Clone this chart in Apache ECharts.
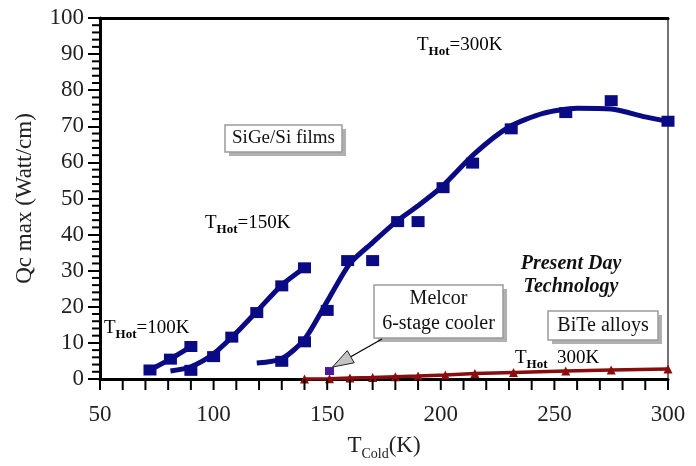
<!DOCTYPE html>
<html>
<head>
<meta charset="utf-8">
<script src="https://cdn.jsdelivr.net/npm/echarts@6/dist/echarts.min.js"></script>
<style>html,body{margin:0;padding:0;background:#fff;}#c{width:696px;height:466px;}</style>
</head>
<body>
<div id="c"></div>
<script>
// ---- data ----
const xTicks = [50, 100, 150, 200, 250, 300];
const yTicks = [0, 10, 20, 30, 40, 50, 60, 70, 80, 90, 100];

// SiGe/Si films, T_Hot = 100K
const hot100X = [72, 81, 90];
const hot100Y = [2.5, 5.5, 9.0];

// SiGe/Si films, T_Hot = 150K (markers and fitted curve)
const hot150X = [90, 100, 108, 119, 130, 140];
const hot150Y = [2.4, 6.2, 11.6, 18.4, 25.8, 30.8];
const hot150FitX = [81, 90, 100, 110, 120, 130, 140];
const hot150FitY = [2.2, 3.4, 7.0, 12.8, 19.4, 26.0, 30.8];

// SiGe/Si films, T_Hot = 300K (markers and fitted curve)
const hot300X = [130, 140, 150, 159, 170, 181, 190, 201, 214, 231, 255, 275, 300];
const hot300Y = [4.9, 10.3, 19.0, 32.8, 32.8, 43.6, 43.6, 53.0, 59.8, 69.3, 73.8, 77.1, 71.4];
const hot300FitX = [119, 130, 140, 150, 160, 170, 180, 190, 200, 215, 230, 245, 260, 275, 290, 300];
const hot300FitY = [4.4, 5.6, 11.0, 21.5, 32.0, 37.8, 43.4, 48.0, 53.0, 62.5, 69.8, 73.6, 75.0, 74.8, 72.6, 71.4];

// BiTe alloys, T_Hot = 300K
const biteX = [140, 151, 160, 170, 180, 190, 202, 215, 232, 255, 275, 300];
const biteY = [0.0, 0.1, 0.3, 0.4, 0.6, 0.8, 1.1, 1.5, 1.8, 2.2, 2.5, 2.8];

// Melcor 6-stage cooler
const melcorX = [151];
const melcorY = [2.2];

const zip = (xs, ys) => xs.map((x, i) => [x, ys[i]]);

const FONT = 'Liberation Serif';
const NAVY = '#0a0a84';
const DARKRED = '#8a0c0c';

const chart = echarts.init(document.getElementById('c'), null, {renderer: 'canvas'});

const subRich = (size, subSize) => ({
  t: {fontFamily: FONT, fontSize: size, color: '#111', lineHeight: size + 8, verticalAlign: 'middle'},
  s: {fontFamily: FONT, fontSize: subSize, fontWeight: 'bold', color: '#111', lineHeight: subSize, verticalAlign: 'bottom'}
});

function boxGroup(x, y, w, h, lines, fontSize) {
  return {
    type: 'group', x: x, y: y,
    children: [
      {type: 'rect', shape: {x: 4, y: 4, width: w, height: h}, style: {fill: '#b0b0b0'}},
      {type: 'rect', shape: {x: 0, y: 0, width: w, height: h}, style: {fill: '#fff', stroke: '#9a9a9a', lineWidth: 1.5}},
      {type: 'text', x: w / 2, y: h / 2, style: {text: lines, fontFamily: FONT, fontSize: fontSize, fill: '#111', align: 'center', verticalAlign: 'middle', lineHeight: fontSize + 5}}
    ]
  };
}

const option = {
  backgroundColor: '#fff',
  animation: false,
  grid: {left: 100, right: 28, top: 18, bottom: 78},
  xAxis: [{
    type: 'value', min: xTicks[0], max: xTicks[xTicks.length - 1], interval: 50,
    axisLine: {show: true, onZero: false, lineStyle: {color: '#000', width: 3}},
    axisTick: {show: false},
    splitLine: {show: false},
    axisLabel: {fontFamily: FONT, fontSize: 23, color: '#222', margin: 24},
    name: '{t|T}{s|Cold}{t|(K)}',
    nameLocation: 'middle', nameGap: 52,
    nameTextStyle: {rich: {
      t: {fontFamily: FONT, fontSize: 23, color: '#222', lineHeight: 30, verticalAlign: 'middle'},
      s: {fontFamily: FONT, fontSize: 14, color: '#222', lineHeight: 14, verticalAlign: 'bottom'}
    }}
  }, {
    type: 'value', position: 'top', min: 50, max: 300,
    axisLine: {show: true, onZero: false, lineStyle: {color: '#000', width: 3}},
    axisTick: {show: false}, axisLabel: {show: false}, splitLine: {show: false}
  }],
  yAxis: [{
    type: 'value', min: yTicks[0], max: yTicks[yTicks.length - 1], interval: 10,
    axisLine: {show: true, onZero: false, lineStyle: {color: '#000', width: 3}},
    axisTick: {show: true, length: 12, lineStyle: {color: '#000', width: 2}},
    splitLine: {show: false},
    axisLabel: {fontFamily: FONT, fontSize: 23, color: '#222', margin: 16},
    name: 'Qc max (Watt/cm)',
    nameLocation: 'middle', nameGap: 64,
    nameTextStyle: {fontFamily: FONT, fontSize: 23, color: '#222'}
  }, {
    type: 'value', position: 'right', min: 0, max: 100,
    axisLine: {show: true, onZero: false, lineStyle: {color: '#444', width: 1.5}},
    axisTick: {show: false}, axisLabel: {show: false}, splitLine: {show: false}
  }],
  series: [
    {type: 'line', name: 'THot100', data: zip(hot100X, hot100Y), symbol: 'rect', symbolSize: [13, 11],
      itemStyle: {color: NAVY, opacity: 1}, lineStyle: {color: NAVY, width: 5}, z: 5},
    {type: 'line', name: 'THot150 fit', data: zip(hot150FitX, hot150FitY), smooth: 0.25, showSymbol: false,
      lineStyle: {color: NAVY, width: 5}, z: 4},
    {type: 'scatter', name: 'THot150', data: zip(hot150X, hot150Y), symbol: 'rect', symbolSize: [13, 11],
      itemStyle: {color: NAVY, opacity: 1}, z: 5},
    {type: 'line', name: 'THot300 fit', data: zip(hot300FitX, hot300FitY), smooth: 0.25, showSymbol: false,
      lineStyle: {color: NAVY, width: 5}, z: 4},
    {type: 'scatter', name: 'THot300', data: zip(hot300X, hot300Y), symbol: 'rect', symbolSize: [13, 11],
      itemStyle: {color: NAVY, opacity: 1}, z: 5},
    {type: 'line', name: 'BiTe', data: zip(biteX, biteY), symbol: 'triangle', symbolSize: 9,
      itemStyle: {color: DARKRED, opacity: 1}, lineStyle: {color: DARKRED, width: 3.5}, z: 6},
    {type: 'scatter', name: 'Melcor', data: zip(melcorX, melcorY), symbol: 'rect', symbolSize: [9, 8],
      itemStyle: {color: '#4a1a9a', opacity: 1}, z: 7}
  ]
};
chart.setOption(option);

// x ticks (every 10) and y minor ticks (every 2), positioned through the axis scales
const tickGraphics = [];
const origin = chart.convertToPixel({seriesIndex: 0}, [xTicks[0], yTicks[0]]);
const xBase = origin[0], yBase = origin[1];
for (let v = xTicks[0]; v <= xTicks[xTicks.length - 1]; v += 10) {
  const p = chart.convertToPixel({seriesIndex: 0}, [v, yTicks[0]])[0];
  tickGraphics.push({type: 'rect', shape: {x: p - 1, y: yBase, width: 2, height: 11}, style: {fill: '#000'}, z: 20});
}
for (let v = yTicks[0]; v <= yTicks[yTicks.length - 1]; v += 2) {
  if (v % 10 === 0) continue;
  const p = chart.convertToPixel({seriesIndex: 0}, [xTicks[0], v])[1];
  tickGraphics.push({type: 'rect', shape: {x: xBase - 8, y: p - 1, width: 8, height: 2}, style: {fill: '#000'}, z: 20});
}

// annotations
const tip = chart.convertToPixel({seriesIndex: 6}, [melcorX[0], melcorY[0]]);
const tx = tip[0] + 3, ty = tip[1] - 4;
const sx = 382, sy = 339;
const dx = sx - tx, dy = sy - ty, L = Math.sqrt(dx * dx + dy * dy);
const ux = dx / L, uy = dy / L;
const bx = tx + ux * 21, by = ty + uy * 21;
const px = -uy, py = ux;

chart.setOption({
  graphic: tickGraphics.concat([
    {type: 'text', x: 417, y: 45, style: {text: '{t|T}{s|Hot}{t|=300K}', rich: subRich(19, 13), verticalAlign: 'middle'}},
    {type: 'text', x: 205, y: 223, style: {text: '{t|T}{s|Hot}{t|=150K}', rich: subRich(19, 13), verticalAlign: 'middle'}},
    {type: 'text', x: 104, y: 328, style: {text: '{t|T}{s|Hot}{t|=100K}', rich: subRich(19, 13), verticalAlign: 'middle'}},
    {type: 'text', x: 515, y: 358, style: {text: '{t|T}{s|Hot}{t|  300K}', rich: subRich(19, 13), verticalAlign: 'middle'}},
    boxGroup(225, 125, 117, 27, 'SiGe/Si films', 19),
    boxGroup(548, 311, 110, 29, 'BiTe alloys', 20),
    boxGroup(374, 285, 129, 53, 'Melcor\n6-stage cooler', 20),
    {type: 'text', x: 571, y: 275, style: {text: 'Present Day\nTechnology', fontFamily: FONT, fontSize: 20, fontStyle: 'italic', fontWeight: 'bold', fill: '#111', align: 'center', verticalAlign: 'middle', lineHeight: 23}},
    {type: 'line', shape: {x1: sx, y1: sy, x2: bx, y2: by}, style: {stroke: '#000', lineWidth: 1.2}, z: 10},
    {type: 'polygon', shape: {points: [[tx, ty], [bx + px * 7, by + py * 7], [bx - px * 7, by - py * 7]]},
      style: {fill: '#c4c4c4', stroke: '#222', lineWidth: 1}, z: 10}
  ])
});
</script>
</body>
</html>
